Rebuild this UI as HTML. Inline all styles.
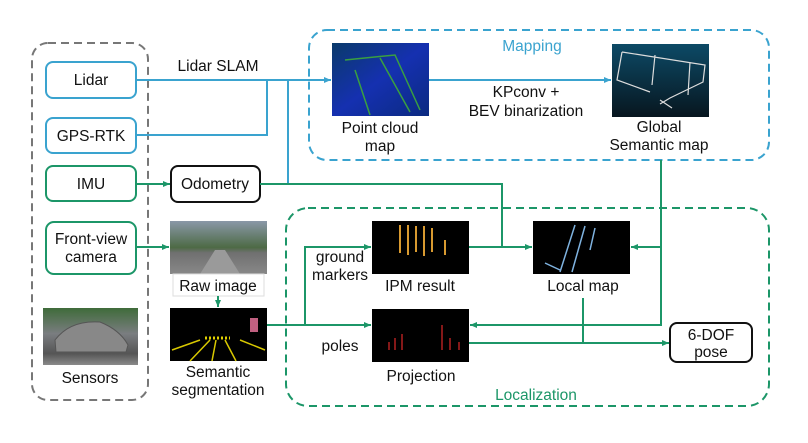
<!DOCTYPE html>
<html><head><meta charset="utf-8"><style>
body{margin:0;background:#fff;}
svg text{font-family:"Liberation Sans",Arial,sans-serif;font-size:15.5px;fill:#111;}
</style></head><body>
<svg width="808" height="438" viewBox="0 0 808 438" xmlns="http://www.w3.org/2000/svg">
<defs>
<marker id="ab" markerWidth="8" markerHeight="8" refX="7" refY="4" orient="auto" markerUnits="userSpaceOnUse"><path d="M0,1 L7,4 L0,7 z" fill="#3aa3cf"/></marker>
<marker id="ag" markerWidth="8" markerHeight="8" refX="7" refY="4" orient="auto" markerUnits="userSpaceOnUse"><path d="M0,1 L7,4 L0,7 z" fill="#1c9668"/></marker>
<linearGradient id="pc" x1="0" y1="0" x2="1" y2="1"><stop offset="0" stop-color="#0a3a6a"/><stop offset="0.5" stop-color="#1530b0"/><stop offset="1" stop-color="#0b2a80"/></linearGradient>
<linearGradient id="gs" x1="0" y1="0" x2="0" y2="1"><stop offset="0" stop-color="#0d4a66"/><stop offset="1" stop-color="#07161f"/></linearGradient>
<linearGradient id="raw" x1="0" y1="0" x2="0" y2="1"><stop offset="0" stop-color="#8a98a8"/><stop offset="0.5" stop-color="#4d6a45"/><stop offset="0.6" stop-color="#707070"/><stop offset="1" stop-color="#888"/></linearGradient>
<linearGradient id="car" x1="0" y1="0" x2="0" y2="1"><stop offset="0" stop-color="#3f6b3a"/><stop offset="0.45" stop-color="#7a7d80"/><stop offset="0.8" stop-color="#555"/><stop offset="1" stop-color="#8a8a8a"/></linearGradient>
</defs>

<rect x="32" y="43" width="116" height="357" rx="16" fill="none" stroke="#777" stroke-width="2" stroke-dasharray="8,5"/>
<rect x="309" y="30" width="460" height="130" rx="18" fill="none" stroke="#3aa3cf" stroke-width="2" stroke-dasharray="8,5"/>
<rect x="286" y="208" width="483" height="198" rx="22" fill="none" stroke="#1c9668" stroke-width="2" stroke-dasharray="8,5"/>
<text x="532" y="51" text-anchor="middle" style="fill:#3aa3cf">Mapping</text>
<text x="536" y="400" text-anchor="middle" style="fill:#1c9668">Localization</text>

<rect x="46" y="62" width="90" height="36" rx="7" fill="#fff" stroke="#3aa3cf" stroke-width="2"/>
<text x="91" y="85" text-anchor="middle">Lidar</text>
<rect x="46" y="118" width="90" height="35" rx="7" fill="#fff" stroke="#3aa3cf" stroke-width="2"/>
<text x="91" y="141" text-anchor="middle">GPS-RTK</text>
<rect x="46" y="166" width="90" height="35" rx="7" fill="#fff" stroke="#1c9668" stroke-width="2"/>
<text x="91" y="189" text-anchor="middle">IMU</text>
<rect x="46" y="222" width="90" height="52" rx="8" fill="#fff" stroke="#1c9668" stroke-width="2"/>
<text x="91" y="244" text-anchor="middle">Front-view</text>
<text x="91" y="262" text-anchor="middle">camera</text>
<rect x="43" y="308" width="95" height="57" fill="url(#car)"/>
<path d="M55,340 Q70,320 100,322 Q120,330 128,345 L126,352 L56,352 z" fill="#888" stroke="#555"/>
<text x="90" y="383" text-anchor="middle">Sensors</text>

<rect x="171" y="166" width="89" height="36" rx="7" fill="#fff" stroke="#111" stroke-width="2"/>
<text x="215" y="189" text-anchor="middle">Odometry</text>

<rect x="170" y="221" width="97" height="53" fill="url(#raw)"/>
<path d="M200,274 L215,250 L225,250 L240,274" fill="#9a9a9a"/>
<rect x="173" y="274" width="91" height="22" fill="#fff" stroke="#ddd"/>
<text x="218" y="291" text-anchor="middle">Raw image</text>
<rect x="170" y="308" width="97" height="53" fill="#000"/>
<path d="M172,350 L200,340 M190,361 L210,340 M236,361 L225,340 M265,350 L240,340 M212,361 L216,340" stroke="#d8c800" stroke-width="1.5"/>
<path d="M205,338 h25" stroke="#e0d000" stroke-width="3" stroke-dasharray="2,2"/>
<rect x="250" y="318" width="8" height="14" fill="#c06080"/>
<text x="218" y="377" text-anchor="middle">Semantic</text>
<text x="218" y="395" text-anchor="middle">segmentation</text>

<rect x="332" y="43" width="97" height="73" fill="url(#pc)"/>
<path d="M345,60 L395,55 L420,110 M355,70 L370,115 M380,58 L410,112" stroke="#3aa040" stroke-width="1.5" fill="none"/>
<text x="380" y="133" text-anchor="middle">Point cloud</text>
<text x="380" y="151" text-anchor="middle">map</text>
<rect x="612" y="44" width="97" height="73" fill="url(#gs)"/>
<path d="M622,52 L705,65 L703,82 L670,98 L660,104 M622,52 L617,80 L650,92 M655,55 L652,85 M690,62 L688,95 M660,100 L672,108" stroke="#ddd" stroke-width="1.2" fill="none"/>
<text x="659" y="132" text-anchor="middle">Global</text>
<text x="659" y="150" text-anchor="middle">Semantic map</text>
<text x="526" y="97" text-anchor="middle">KPconv +</text>
<text x="526" y="116" text-anchor="middle">BEV binarization</text>
<text x="218" y="71" text-anchor="middle">Lidar SLAM</text>

<rect x="372" y="221" width="97" height="53" fill="#000"/>
<path d="M400,225 v28 M408,225 v30 M416,226 v26 M424,226 v30 M432,228 v24 M445,240 v15" stroke="#d89a30" stroke-width="2"/>
<text x="420" y="291" text-anchor="middle">IPM result</text>
<rect x="533" y="221" width="97" height="53" fill="#000"/>
<path d="M575,225 L560,272 M585,226 L572,272 M595,228 L590,250 M545,263 L560,270" stroke="#7fb3e0" stroke-width="1.5" fill="none"/>
<text x="583" y="291" text-anchor="middle">Local map</text>
<rect x="372" y="309" width="97" height="53" fill="#000"/>
<path d="M389,350 v-8 M395,350 v-12 M402,350 v-16 M442,350 v-25 M450,350 v-12 M459,350 v-8" stroke="#b02020" stroke-width="1.5"/>
<text x="421" y="381" text-anchor="middle">Projection</text>
<text x="340" y="262" text-anchor="middle">ground</text>
<text x="340" y="280" text-anchor="middle">markers</text>
<text x="340" y="351" text-anchor="middle">poles</text>

<rect x="670" y="323" width="82" height="39" rx="7" fill="#fff" stroke="#111" stroke-width="2"/>
<text x="711" y="340" text-anchor="middle">6-DOF</text>
<text x="711" y="357" text-anchor="middle">pose</text>

<g fill="none" stroke="#3aa3cf" stroke-width="2">
<path d="M136,80 H331" marker-end="url(#ab)"/>
<path d="M136,135 H267 V80"/>
<path d="M288,80 V184"/>
<path d="M429,80 H611" marker-end="url(#ab)"/>
</g>
<g fill="none" stroke="#1c9668" stroke-width="2">
<path d="M136,184 H170" marker-end="url(#ag)"/>
<path d="M136,247 H169" marker-end="url(#ag)"/>
<path d="M218,296 V307" marker-end="url(#ag)"/>
<path d="M260,184 H502 V247"/>
<path d="M469,247 H532" marker-end="url(#ag)"/>
<path d="M267,325 H371" marker-end="url(#ag)"/>
<path d="M305,325 V247 H371" marker-end="url(#ag)"/>
<path d="M661,160 V325 H470" marker-end="url(#ag)"/>
<path d="M661,247 H631" marker-end="url(#ag)"/>
<path d="M469,343 H669" marker-end="url(#ag)"/>
<path d="M583,298 V343"/>
</g>
</svg>
</body></html>
